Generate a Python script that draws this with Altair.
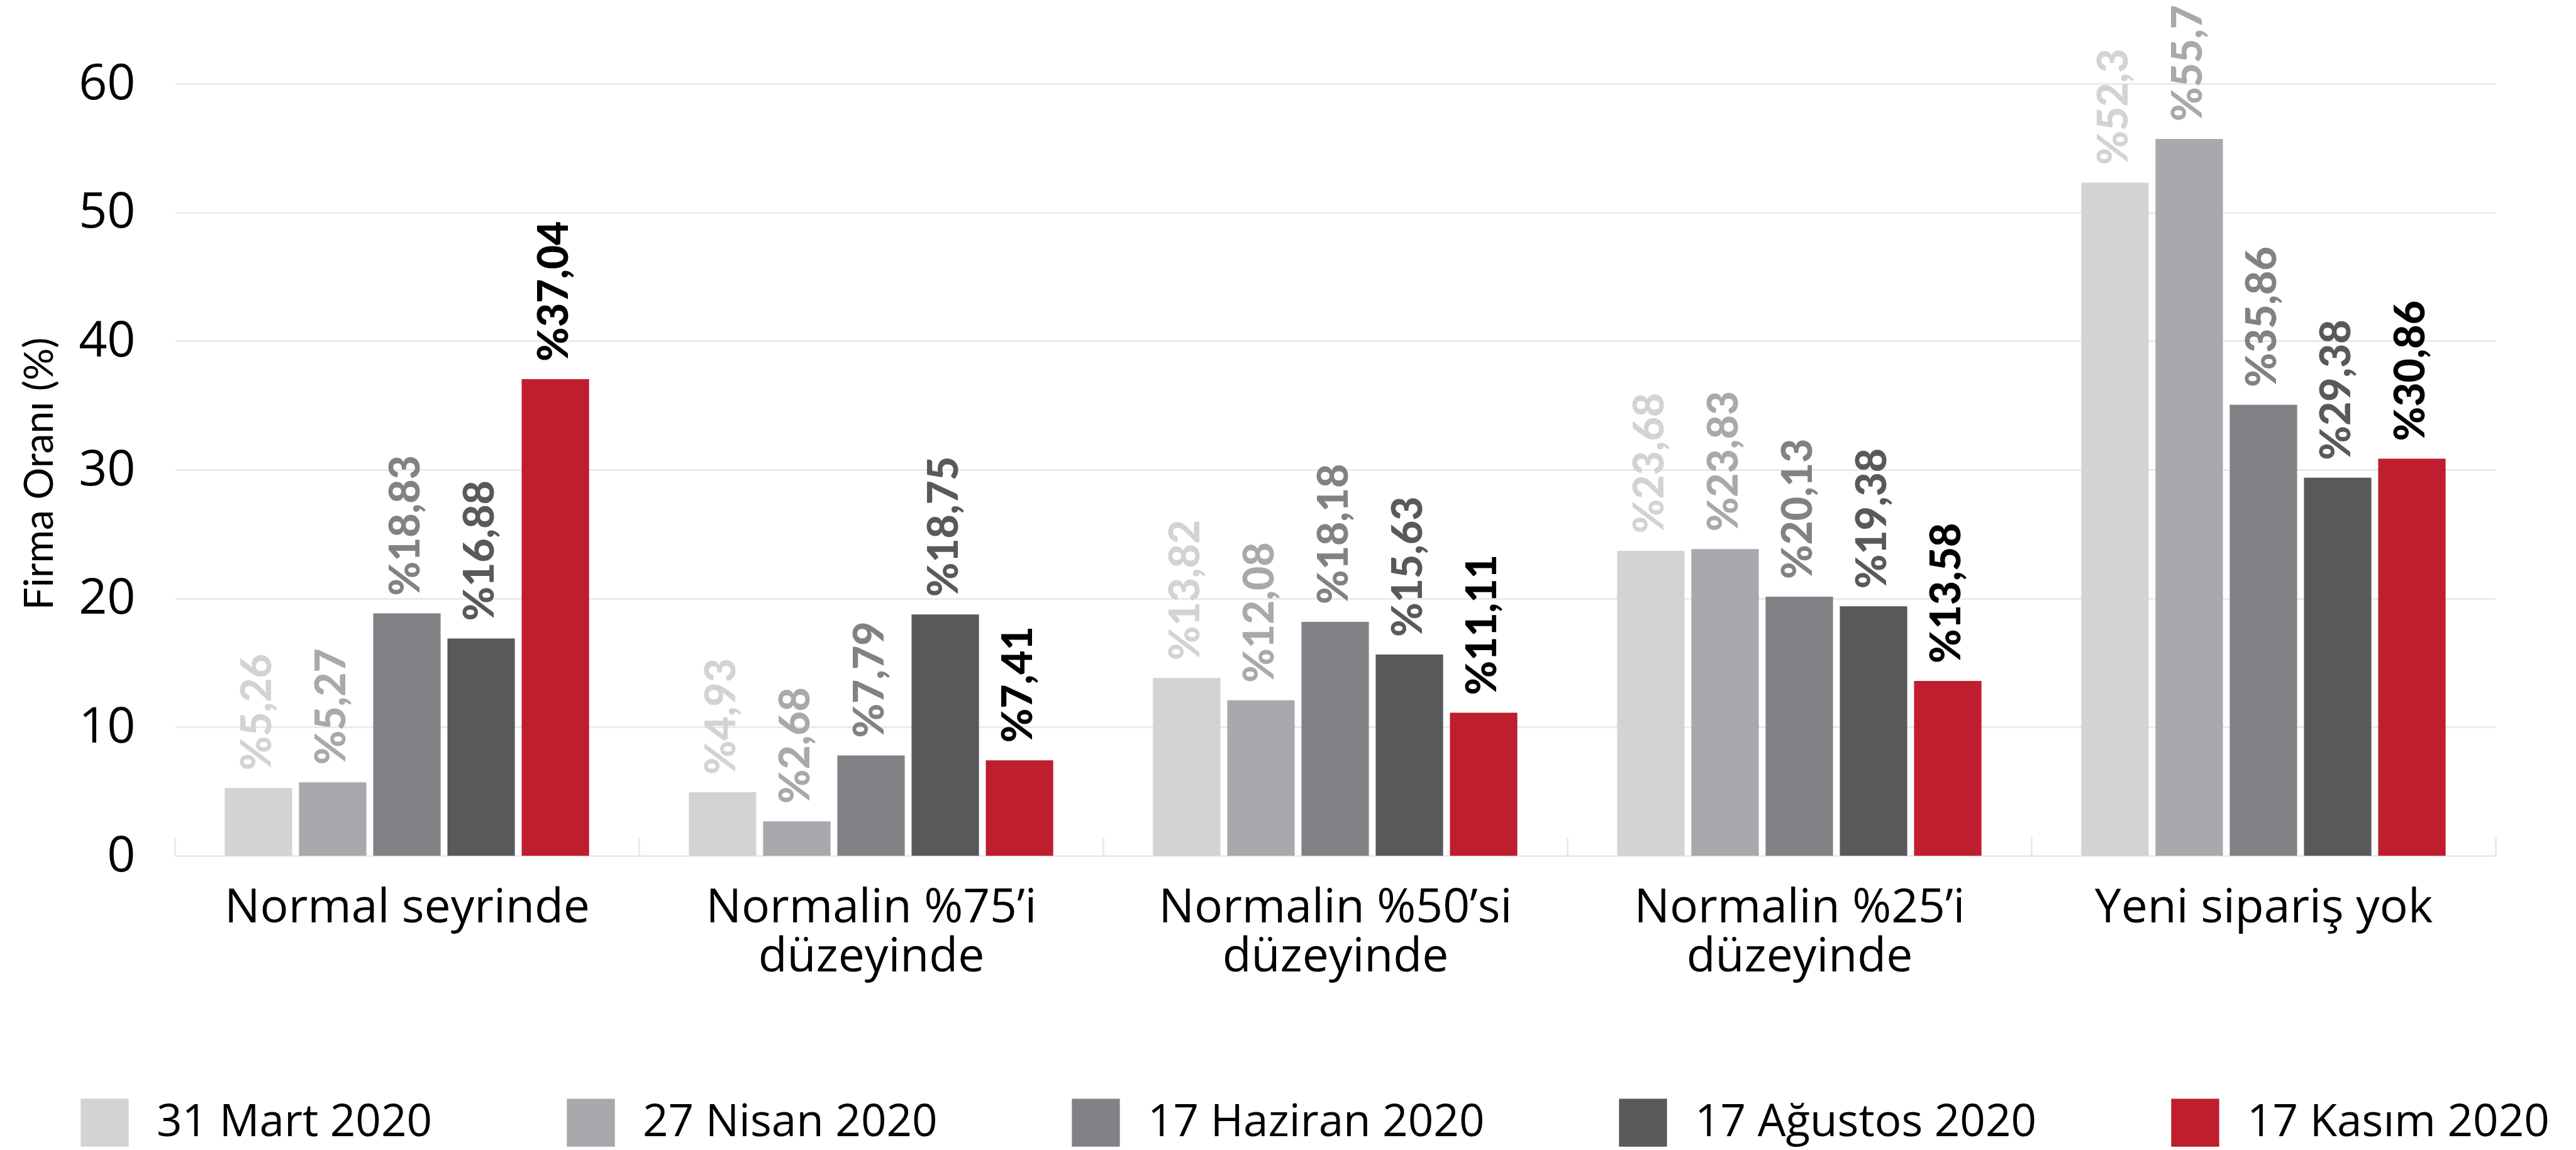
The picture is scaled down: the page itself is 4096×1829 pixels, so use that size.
import altair as alt
import pandas as pd

categories = [
    "Normal seyrinde",
    "Normalin %75’i\ndüzeyinde",
    "Normalin %50’si\ndüzeyinde",
    "Normalin %25’i\ndüzeyinde",
    "Yeni sipariş yok",
]
series = ["31 Mart 2020", "27 Nisan 2020", "17 Haziran 2020", "17 Ağustos 2020", "17 Kasım 2020"]

# bar heights as drawn, one per category
v_mart = [5.26, 4.93, 13.82, 23.68, 52.3]
v_nisan = [5.7, 2.68, 12.08, 23.83, 55.7]
v_haziran = [18.83, 7.79, 18.18, 20.13, 35.05]
v_agustos = [16.88, 18.75, 15.63, 19.38, 29.38]
v_kasim = [37.04, 7.41, 11.11, 13.58, 30.86]

# printed value labels
l_mart = ["%5,26", "%4,93", "%13,82", "%23,68", "%52,3"]
l_nisan = ["%5,27", "%2,68", "%12,08", "%23,83", "%55,7"]
l_haziran = ["%18,83", "%7,79", "%18,18", "%20,13", "%35,86"]
l_agustos = ["%16,88", "%18,75", "%15,63", "%19,38", "%29,38"]
l_kasim = ["%37,04", "%7,41", "%11,11", "%13,58", "%30,86"]

y_ticks = [0, 10, 20, 30, 40, 50, 60]

bar_colors = ["#d1d3d4", "#a7a9ac", "#808285", "#58595b", "#be1e2d"]
label_colors = ["#d1d3d4", "#a7a9ac", "#808285", "#58595b", "#000000"]
grid_color = "#e6e7e8"

values = [v_mart, v_nisan, v_haziran, v_agustos, v_kasim]
labels = [l_mart, l_nisan, l_haziran, l_agustos, l_kasim]
rows = []
for s, vals, labs in zip(series, values, labels):
    for c, v, l in zip(categories, vals, labs):
        rows.append({"category": c, "series": s, "value": v, "label": l})
df = pd.DataFrame(rows)

x_enc = alt.X(
    "category:N",
    sort=categories,
    scale=alt.Scale(paddingInner=0, paddingOuter=0),
    axis=alt.Axis(
        title=None,
        domain=False,
        grid=False,
        ticks=True,
        tickBand="extent",
        tickSize=30,
        tickWidth=2.6,
        tickColor=grid_color,
        offset=-30,
        labelPadding=46,
        labelAngle=0,
        labelFont="Open Sans",
        labelFontSize=75,
        labelColor="#000000",
        labelLineHeight=78,
        labelBaseline="top",
        labelLimit=3000,
        labelExpr="isString(datum.value) ? split(datum.value, '\\n') : ''",
    ),
)
xo_enc = alt.XOffset(
    "series:N",
    sort=series,
    scale=alt.Scale(paddingInner=0.0917, paddingOuter=0.672),
)
y_enc = alt.Y(
    "value:Q",
    scale=alt.Scale(domain=[0, 60], nice=False),
    axis=alt.Axis(
        values=y_ticks,
        title="Firma Oranı (%)",
        titleFont="Lato",
        titleFontSize=64,
        titleFontWeight="normal",
        titleColor="#000000",
        titleAngle=270,
        titleAlign="center",
        titleBaseline="alphabetic",
        titleX=-195,
        titleY=620,
        labelFont="Open Sans",
        labelFontSize=79,
        labelColor="#000000",
        labelPadding=63,
        ticks=False,
        domain=False,
        grid=True,
        gridColor=grid_color,
        gridWidth=2.7,
    ),
)

base = alt.Chart(df)

bars = base.mark_bar().encode(
    x=x_enc,
    xOffset=xo_enc,
    y=y_enc,
    color=alt.Color(
        "series:N",
        sort=series,
        scale=alt.Scale(domain=series, range=bar_colors),
        legend=alt.Legend(
            title=None,
            orient="none",
            legendX=-150,
            legendY=1614,
            direction="horizontal",
            symbolType="square",
            symbolSize=5822,
            symbolStrokeWidth=0,
            symbolOpacity=1,
            labelFont="Open Sans",
            labelFontSize=71,
            labelColor="#000000",
            labelOffset=44,
            columnPadding=213,
            labelLimit=3000,
            padding=0,
        ),
    ),
)

texts = base.mark_text(
    angle=270,
    align="left",
    baseline="middle",
    dx=28,
    font="Lato",
    fontSize=66,
    fontWeight=900,
).encode(
    x=x_enc,
    xOffset=xo_enc,
    y=y_enc,
    text="label:N",
    fill=alt.Fill(
        "series:N",
        sort=series,
        scale=alt.Scale(domain=series, range=label_colors),
        legend=None,
    ),
)

chart = (
    alt.layer(bars, texts)
    .properties(
        width=3690,
        height=1228,
        padding={"left": 270, "top": 125, "right": 120, "bottom": 468},
        autosize=alt.AutoSizeParams(type="none"),
        background="#ffffff",
    )
    .configure_view(stroke=None)
)

chart.save("out.html", embed_options={"renderer": "svg", "actions": False})
